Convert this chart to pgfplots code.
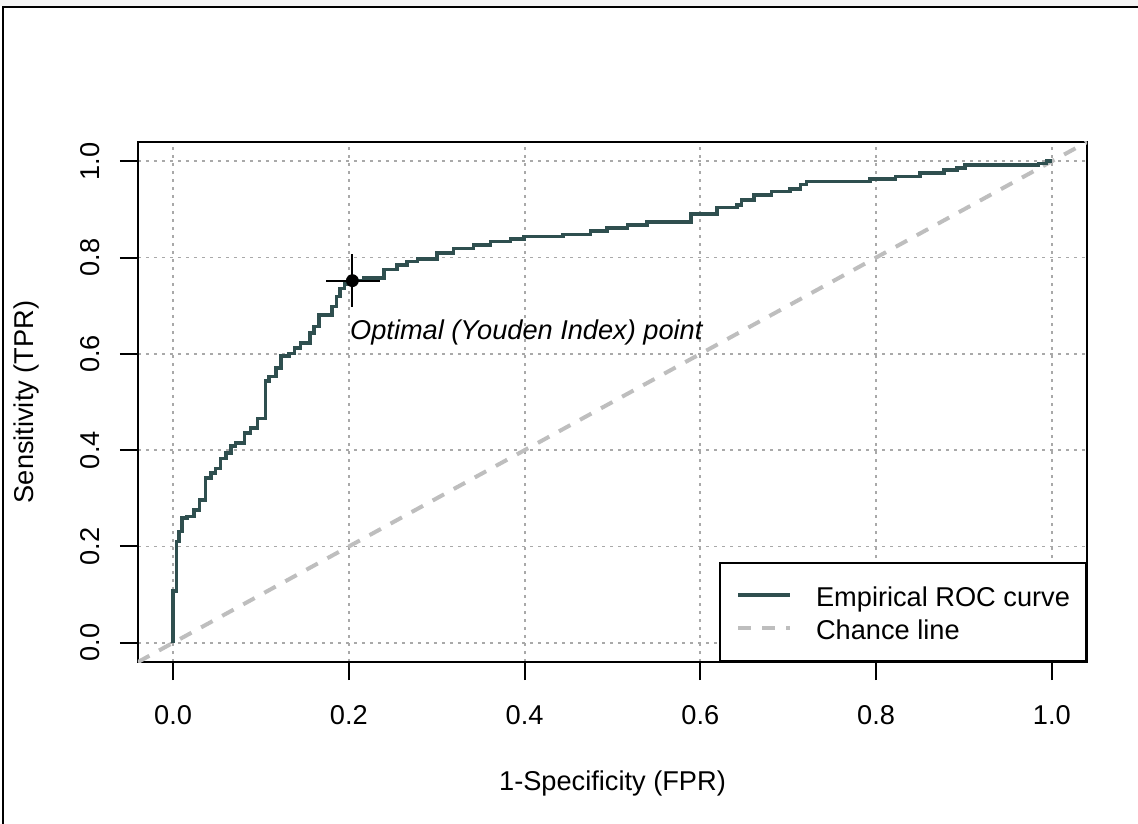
\documentclass[border=0pt]{standalone}
\usepackage{fontspec}
\setmainfont{Liberation Sans}
\usepackage{pgfplots}
\usepackage{pgfplotstable}
\pgfplotsset{compat=1.18}

\definecolor{roc}{HTML}{2F4F4F}
\definecolor{chance}{HTML}{BEBEBE}
\definecolor{gridc}{HTML}{A9A9A9}

% empirical ROC curve, corners of the staircase (FPR, TPR)
\pgfplotstableread{
fpr   tpr
0.000 0.000
0.000 0.107
0.004 0.210
0.007 0.231
0.010 0.259
0.016 0.262
0.024 0.276
0.030 0.297
0.037 0.342
0.043 0.352
0.048 0.362
0.054 0.383
0.060 0.394
0.066 0.408
0.071 0.415
0.081 0.435
0.088 0.446
0.096 0.466
0.105 0.543
0.109 0.553
0.117 0.570
0.123 0.595
0.132 0.601
0.138 0.612
0.145 0.622
0.156 0.643
0.160 0.657
0.166 0.681
0.181 0.698
0.186 0.719
0.190 0.736
0.195 0.745
0.202 0.752
0.217 0.757
0.240 0.775
0.255 0.785
0.266 0.792
0.278 0.797
0.300 0.809
0.319 0.819
0.342 0.826
0.361 0.833
0.384 0.839
0.399 0.844
0.444 0.848
0.475 0.855
0.494 0.861
0.517 0.867
0.539 0.874
0.589 0.891
0.619 0.904
0.642 0.909
0.647 0.920
0.661 0.930
0.681 0.937
0.702 0.942
0.714 0.952
0.721 0.958
0.793 0.963
0.822 0.968
0.850 0.975
0.877 0.982
0.892 0.986
0.901 0.992
0.985 0.995
0.994 1.000
1.000 1.000
}\roctable

\begin{document}
\fontsize{13.6bp}{16bp}\selectfont
\begin{tikzpicture}
\path[use as bounding box] (-69bp,-81bp) rectangle (500bp,331bp);
\fill[gray!8] (-69bp,328bp) rectangle (500bp,331bp);
\draw[line width=1bp] (-67.5bp,-81bp) -- (-67.5bp,327.5bp) -- (500bp,327.5bp);
\begin{axis}[
    at={(0,0)}, anchor=south west,
    scale only axis, width=474.5bp, height=260bp,
    xmin=-0.04, xmax=1.04, ymin=-0.04, ymax=1.04,
    xtick={0,0.2,0.4,0.6,0.8,1}, ytick={0,0.2,0.4,0.6,0.8,1},
    xticklabel={\pgfmathprintnumber[fixed,fixed zerofill,precision=1]{\tick}},
    yticklabel={\pgfmathprintnumber[fixed,fixed zerofill,precision=1]{\tick}},
    /pgf/number format/assume math mode=true,
    tick pos=left, tick align=outside, major tick length=9bp,
    every tick/.style={black, line width=1bp},
    axis line style={line width=1bp},
    grid=major,
    major grid style={gridc, line width=0.9bp, dash pattern=on 1.5bp off 2.5bp},
    xticklabel style={inner sep=0pt, text height=9.7bp, text depth=0pt, anchor=north},
    yticklabel style={inner sep=0pt, text height=9.7bp, text depth=0pt, rotate=90, anchor=south},
    xticklabel shift=12.5bp,
    yticklabel shift=10.2bp,
    xlabel={1-Specificity (FPR)},
    ylabel={Sensitivity (TPR)},
    xlabel style={at={(axis description cs:0.5,-0.248)}, anchor=base, inner sep=0pt},
    ylabel style={at={(axis description cs:-0.1096,0.5)}, anchor=base, inner sep=0pt},
    legend style={at={(rel axis cs:1,0)}, anchor=south east, draw=black,
        line width=1bp, fill=white, inner xsep=8bp, inner ysep=10bp,
        row sep=4bp, column sep=12bp,
        nodes={inner sep=0pt, text height=11.7bp, text depth=0.9bp}},
    legend cell align=left,
    legend image code/.code={\draw[#1] (1.5bp,0bp) -- (27.5bp,0bp);},
]
\addplot[chance, line width=2bp, dash pattern=on 6.5bp off 5.5bp, forget plot]
    coordinates {(-0.04,-0.04) (1.04,1.04)};
\addplot[roc, line width=1.8bp, const plot] table[x=fpr, y=tpr] {\roctable};
\addlegendentry{Empirical ROC curve}
\addlegendimage{chance, line width=2bp, dash pattern=on 6.5bp off 5.5bp}
\addlegendentry{Chance line}
\addplot[black, line width=1bp, forget plot] coordinates {(0.174,0.752) (0.235,0.752)};
\addplot[black, line width=1bp, forget plot] coordinates {(0.204,0.698) (0.204,0.808)};
\addplot[black, only marks, mark=*, mark size=3bp, forget plot] coordinates {(0.204,0.752)};
\node[anchor=base west, inner sep=0pt, font=\itshape] at (axis cs:0.201,0.629) {Optimal (Youden Index) point};
\end{axis}
\end{tikzpicture}
\end{document}
